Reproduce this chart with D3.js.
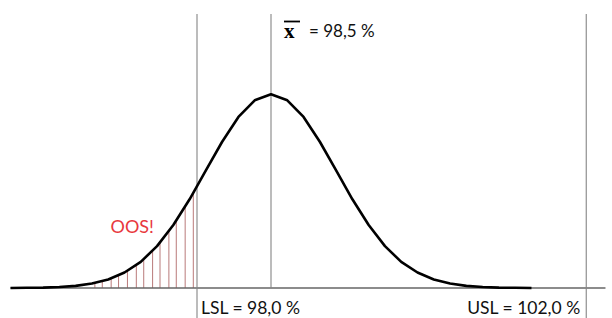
<!DOCTYPE html>
<html>
<head>
<meta charset="utf-8">
<script src="https://cdn.jsdelivr.net/npm/d3@7"></script>
<style>
  body { margin: 0; background: #fff; }
  text { font-family: Lato, "Liberation Sans", sans-serif; }
</style>
</head>
<body>
<div id="chart"></div>
<script>
// Curve points (assay %, relative height, peak = 1)
var curveX = [96.74, 96.85, 96.96, 97.07, 97.18, 97.29, 97.40, 97.51, 97.62, 97.73, 97.84,
              97.95, 98.06, 98.17, 98.28, 98.39, 98.50, 98.61, 98.72, 98.83, 98.94, 99.05,
              99.16, 99.27, 99.38, 99.49, 99.60, 99.71, 99.82, 99.93, 100.04, 100.15, 100.26];
var curveY = [0.000, 0.001, 0.002, 0.005, 0.011, 0.023, 0.044, 0.080, 0.135, 0.216, 0.325,
              0.458, 0.607, 0.755, 0.883, 0.969, 1.000, 0.969, 0.883, 0.755, 0.607, 0.458,
              0.325, 0.216, 0.135, 0.080, 0.044, 0.023, 0.011, 0.005, 0.002, 0.001, 0.000];

// Hatching of the out-of-spec tail (below LSL)
var oosX = [97.31, 97.36, 97.42, 97.47, 97.53, 97.59, 97.64, 97.70, 97.75, 97.81, 97.86, 97.92, 97.975];

// Spec limits and mean; the source is a sketch, USL is drawn closer than its true value
var meanValue = 98.5;
var lslValue = 98.0;
var uslPlotted = 100.63;
var axisExtent = [96.74, 100.76];

var width = 612, height = 318;
var baseY = 288;

var svg = d3.select("#chart")
  .append("svg")
  .attr("width", width)
  .attr("height", height);

svg.append("rect").attr("width", width).attr("height", height).attr("fill", "#fff");

var xScale = d3.scaleLinear()
  .domain([lslValue, meanValue])
  .range([197, 271]);

var yScale = d3.scaleLinear()
  .domain([0, 1])
  .range([baseY, 94.3]);

var points = curveX.map(function(x, i) { return {x: x, y: curveY[i]}; });

// height of the curve at any x, by linear interpolation between read points
function curveAt(x) {
  var i = d3.bisectLeft(curveX, x);
  if (i <= 0) return curveY[0];
  var x0 = curveX[i - 1], x1 = curveX[i];
  var t = (x - x0) / (x1 - x0);
  return curveY[i - 1] + t * (curveY[i] - curveY[i - 1]);
}

// OOS hatch lines
svg.selectAll(".oos")
  .data(oosX)
  .enter().append("line")
  .attr("class", "oos")
  .attr("x1", function(d) { return xScale(d); })
  .attr("x2", function(d) { return xScale(d); })
  .attr("y1", yScale(0))
  .attr("y2", function(d) { return yScale(curveAt(d)); })
  .attr("stroke", "#b97a7a")
  .attr("stroke-width", 1);

// baseline
svg.append("line")
  .attr("x1", xScale(axisExtent[0]))
  .attr("x2", xScale(axisExtent[1]))
  .attr("y1", yScale(0))
  .attr("y2", yScale(0))
  .attr("stroke", "#666")
  .attr("stroke-width", 1.5);

// vertical reference lines
var vlines = [
  {x: lslValue, bottom: height},
  {x: meanValue, bottom: yScale(0)},
  {x: uslPlotted, bottom: height}
];
svg.selectAll(".vline")
  .data(vlines)
  .enter().append("line")
  .attr("class", "vline")
  .attr("x1", function(d) { return xScale(d.x); })
  .attr("x2", function(d) { return xScale(d.x); })
  .attr("y1", 14)
  .attr("y2", function(d) { return d.bottom; })
  .attr("stroke", "#858585")
  .attr("stroke-width", 1.1);

// normal curve
svg.append("path")
  .datum(points)
  .attr("fill", "none")
  .attr("stroke", "#000")
  .attr("stroke-width", 2.6)
  .attr("stroke-linejoin", "round")
  .attr("d", d3.line()
    .x(function(d) { return xScale(d.x); })
    .y(function(d) { return yScale(d.y); }));

// labels
var mx = xScale(meanValue);
svg.append("text")
  .attr("x", mx + 13)
  .attr("y", 38)
  .attr("font-weight", "bold")
  .attr("font-size", 21)
  .style("font-family", "'Liberation Serif', serif")
  .text("x");
svg.append("line")
  .attr("x1", mx + 13)
  .attr("x2", mx + 29)
  .attr("y1", 21.5)
  .attr("y2", 21.5)
  .attr("stroke", "#000")
  .attr("stroke-width", 1.8);
svg.append("text")
  .attr("x", mx + 38)
  .attr("y", 37)
  .attr("font-size", 17)
  .attr("fill", "#111")
  .text("= 98,5 %");

svg.append("text")
  .attr("x", xScale(lslValue) + 4)
  .attr("y", 314)
  .attr("font-size", 17.5)
  .attr("fill", "#111")
  .text("LSL = 98,0 %");

svg.append("text")
  .attr("x", xScale(uslPlotted) - 6)
  .attr("y", 314)
  .attr("text-anchor", "end")
  .attr("font-size", 17.5)
  .attr("fill", "#111")
  .text("USL = 102,0 %");

svg.append("text")
  .attr("x", 110.5)
  .attr("y", 233.3)
  .attr("font-size", 18)
  .attr("fill", "#e8383d")
  .text("OOS!");
</script>
</body>
</html>
